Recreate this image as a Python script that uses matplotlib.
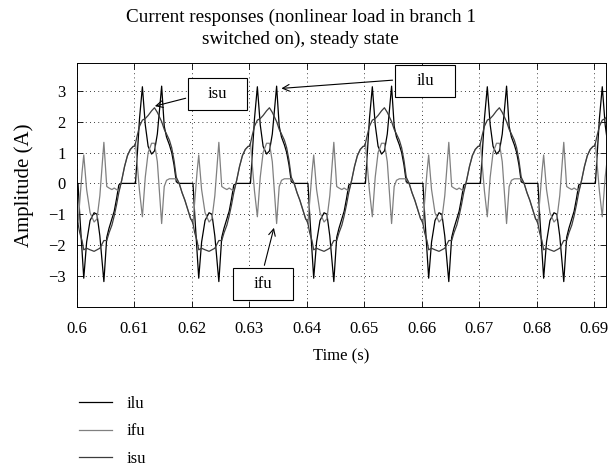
import numpy as np
import matplotlib
matplotlib.use("Agg")
import matplotlib.pyplot as plt
from matplotlib.patches import Rectangle

plt.rcParams['font.family'] = ['Liberation Serif', 'DejaVu Serif']
plt.rcParams['font.size'] = 12

# one steady-state period (ms after 0.60 s)
period_ms = [0.0, 0.2, 0.5, 0.9, 1.2, 1.7, 2.3, 3.0, 3.5, 4.0, 4.7, 5.2, 5.6, 6.1, 6.5, 6.9, 7.3, 7.8, 8.3, 8.8, 9.3, 9.8,
             10.0, 10.2, 10.5, 10.9, 11.4, 11.9, 12.4, 13.0, 13.5, 14.0, 14.75, 15.2, 15.6, 16.1, 16.5, 16.9, 17.3, 17.8, 18.3, 18.8, 19.3, 19.8]
ilu = [0, 0, -1.0, -2.2, -3.07, -1.9, -1.2, -0.95, -1.0, -1.7, -3.18, -1.75, -1.45, -1.15, -0.9, -0.5, -0.05, 0, 0, 0, 0, 0,
       0, 0, 0.9, 2.1, 3.13, 1.9, 1.2, 0.95, 1.05, 1.6, 3.15, 1.85, 1.5, 1.25, 1.0, 0.6, 0.05, 0, 0, 0, 0, 0]
isu = [-1.2, -1.3, -1.6, -1.85, -2.15, -2.1, -2.15, -2.2, -2.15, -2.1, -1.85, -1.85, -1.6, -1.35, -1.05, -0.7, -0.3, 0.1, 0.55, 0.9, 1.1, 1.2,
       1.2, 1.3, 1.55, 1.85, 2.05, 2.1, 2.2, 2.35, 2.45, 2.3, 2.0, 1.75, 1.6, 1.4, 1.15, 0.75, 0.2, 0.0, -0.3, -0.55, -0.85, -1.15]
ifu = [-1.2, -1.3, -0.6, 0.35, 0.92, -0.2, -0.95, -1.25, -1.15, -0.4, 1.33, -0.1, -0.15, -0.2, -0.15, -0.2, -0.25, 0.1, 0.55, 0.9, 1.1, 1.2,
       1.2, 1.3, 0.65, -0.25, -1.08, 0.2, 1.0, 1.3, 1.3, 0.7, -1.3, -0.1, 0.1, 0.15, 0.15, 0.15, 0.15, 0.0, -0.3, -0.55, -0.85, -1.15]

xticks = [0.6, 0.61, 0.62, 0.63, 0.64, 0.65, 0.66, 0.67, 0.68, 0.69]
xticklabels = ['0.6', '0.61', '0.62', '0.63', '0.64', '0.65', '0.66', '0.67', '0.68', '0.69']
yticks = [-3, -2, -1, 0, 1, 2, 3]

# repeat the period over the window (steady state)
pms = np.array(period_ms)
t = np.concatenate([0.6 + k * 0.02 + pms / 1000 for k in range(-1, 6)])
ilu_t = np.tile(ilu, 7)
ifu_t = np.tile(ifu, 7)
isu_t = np.tile(isu, 7)

fig = plt.figure(figsize=(6.1, 4.7), dpi=100)
ax = fig.add_axes([0.126, 0.347, 0.867, 0.519])

ax.plot(t, ilu_t, color='#000000', lw=0.9, label='ilu')
ax.plot(t, ifu_t, color='#808080', lw=0.9, label='ifu')
ax.plot(t, isu_t, color='#3c3c3c', lw=0.9, label='isu')

ax.set_xlim(0.6, 0.692)
ax.set_ylim(-4, 3.9)
ax.set_xticks(xticks)
ax.set_xticklabels(xticklabels)
ax.set_yticks(yticks)
ax.set_yticklabels(['\u22123', '\u22122', '\u22121', '0', '1', '2', '3'])
ax.tick_params(direction='in', top=True, right=True, length=4, width=0.6)
ax.tick_params(axis='x', pad=10)
ax.tick_params(axis='y', pad=8)
ax.grid(True, linestyle=(0, (1, 4)), color='k', lw=0.6)
for s in ax.spines.values():
    s.set_linewidth(0.7)

ax.set_title('Current responses (nonlinear load in branch 1\nswitched on), steady state',
             x=0.4234, pad=14, linespacing=1.32, fontsize=13.8)
ax.set_xlabel('Time (s)', labelpad=8)
ax.set_ylabel('Amplitude (A)', labelpad=10, fontsize=15)

# labelled boxes with arrows
boxes = [('isu', 0.6194, 2.37, 0.0102, 1.04, (0.6194, 2.78), (0.6131, 2.48)),
         ('ilu', 0.6554, 2.79, 0.0104, 1.04, (0.6554, 3.35), (0.6351, 3.07)),
         ('ifu', 0.6272, -3.78, 0.0104, 1.04, (0.6325, -2.74), (0.6344, -1.35))]
for name, x0, y0, w, h, start, tip in boxes:
    ax.annotate('', xy=tip, xytext=start, arrowprops=dict(arrowstyle='->', lw=0.8, color='k'))
    ax.add_patch(Rectangle((x0, y0), w, h, facecolor='white', edgecolor='k', lw=0.8, zorder=5))
    ax.text(x0 + w / 2, y0 + h / 2, name, ha='center', va='center', zorder=6)

fig.legend(loc='upper left', bbox_to_anchor=(0.1295, 0.158), frameon=False, borderaxespad=0,
           borderpad=0, handlelength=2.0, handletextpad=0.85, labelspacing=0.7)

fig.savefig('out.png', dpi=100)
